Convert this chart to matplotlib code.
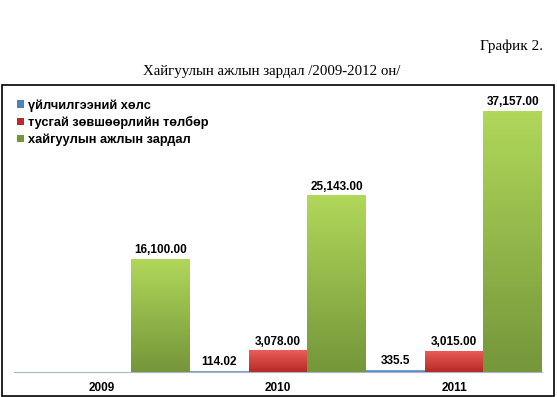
import numpy as np
import matplotlib
matplotlib.use('Agg')
import matplotlib.pyplot as plt
from matplotlib.colors import LinearSegmentedColormap
from matplotlib.patches import Rectangle

years = ['2009', '2010', '2011']
series = ['үйлчилгээний хөлс', 'тусгай зөвшөөрлийн төлбөр', 'хайгуулын ажлын зардал']
service_fee = [0, 114.02, 335.5]
license_fee = [0, 3078.00, 3015.00]
exploration = [16100.00, 25143.00, 37157.00]

# light / dark ends of each bar gradient
shades = [('#9cc3ea', '#4f81bd'), ('#e85e58', '#b82a28'), ('#b0d85a', '#76963a')]

plt.rcParams['font.family'] = ['Liberation Sans', 'DejaVu Sans']

fig = plt.figure(figsize=(5.57, 3.97), dpi=100)
W, H = 557, 397
ax = fig.add_axes([14 / W, (H - 372) / H, 528 / W, 281 / H])

x = np.arange(len(years))
w = 1 / 3
values = [service_fee, license_fee, exploration]

for i, (vals, (light, dark)) in enumerate(zip(values, shades)):
    bars = ax.bar(x + (i - 1) * w, vals, w, color=dark, label=series[i], zorder=2)
    cmap = LinearSegmentedColormap.from_list('g%d' % i, [dark, light])
    grad = np.linspace(0, 1, 64).reshape(-1, 1)
    for b in bars:
        if b.get_height() <= 0:
            continue
        bx, by = b.get_x(), b.get_y()
        im = ax.imshow(grad, cmap=cmap, origin='lower', aspect='auto',
                       extent=[bx, bx + b.get_width(), by, by + b.get_height()],
                       zorder=3)
        im.set_clip_path(b)
    if i == 0:
        labels = ['%g' % v if v else '' for v in vals]
    else:
        labels = ['{:,.2f}'.format(v) if v else '' for v in vals]
    ax.bar_label(bars, labels=labels, padding=2, fontsize=8.5,
                 fontweight='bold', zorder=4)

ax.set_xlim(-0.5, 2.5)
ax.set_ylim(0, 40000)
ax.set_xticks(x)
ax.set_xticklabels(years, fontsize=8.5, fontweight='bold')
ax.set_yticks([])
ax.tick_params(axis='x', length=0, pad=7)
for s in ['top', 'left', 'right']:
    ax.spines[s].set_visible(False)
ax.spines['bottom'].set_color('#a8b4c8')
ax.spines['bottom'].set_zorder(1)

leg = fig.legend(loc='upper left', bbox_to_anchor=(12 / W, 1 - 94 / H),
                 frameon=False, fontsize=9.2, handlelength=0.5, handleheight=0.5,
                 handletextpad=0.35, labelspacing=0.35, borderaxespad=0)
for t in leg.get_texts():
    t.set_fontweight('bold')

# frame around the chart area
fig.add_artist(Rectangle((2 / W, 1 / H), 552 / W, 311 / H, transform=fig.transFigure,
                         fill=False, edgecolor='black', linewidth=1.2))

fig.text(543 / W, 1 - 46 / H, 'График 2.', ha='right', va='center',
         family='Liberation Serif', fontsize=11)
fig.text(272 / W, 1 - 71 / H, 'Хайгуулын ажлын зардал /2009-2012 он/', ha='center',
         va='center', family='Liberation Serif', fontsize=10.7)

fig.savefig('out.png', dpi=100)
